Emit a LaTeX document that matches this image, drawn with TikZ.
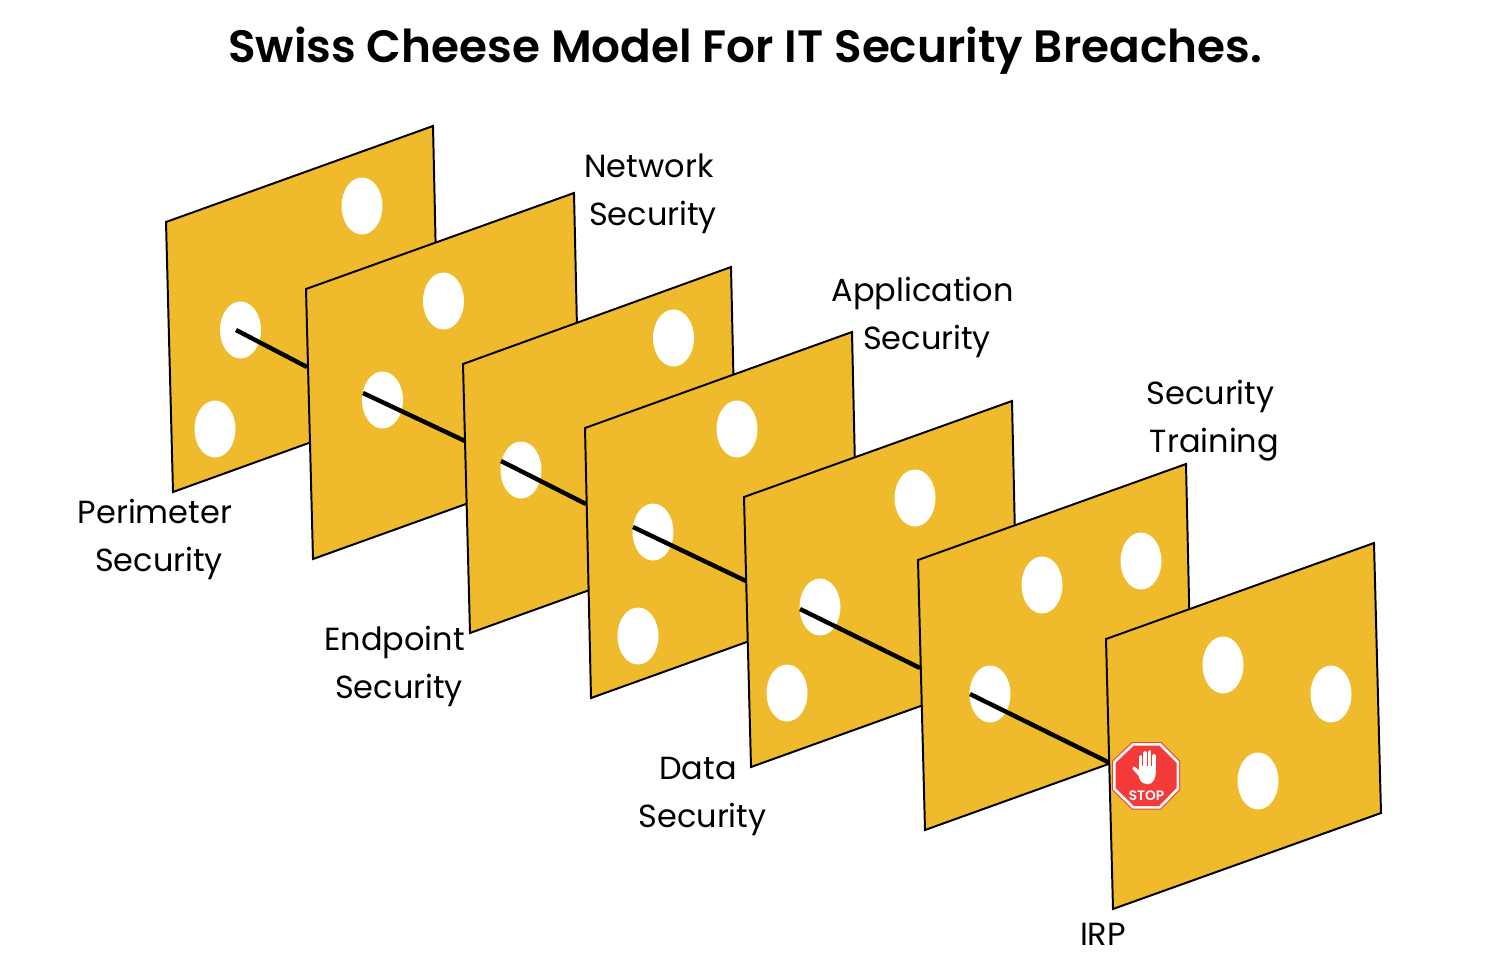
\documentclass[tikz,border=0pt]{standalone}
\usepackage{fontspec}
\setmainfont[BoldFont={Poppins SemiBold}]{Poppins}
\definecolor{cheese}{HTML}{EFBA2C}
\definecolor{stopred}{HTML}{F53A3A}
\tikzset{
  x=0.05cm,y=-0.05cm,
  panel/.style={fill=cheese,draw=black,line width=2.8pt,line join=miter},
  hole/.style={fill=white,draw=none},
  ray/.style={draw=black,line width=6.3pt},
  lbl/.style={anchor=base,inner sep=0pt,font=\fontsize{45.5}{46}\selectfont,text=black},
  ttl/.style={anchor=base,inner sep=0pt,font=\fontsize{64.5}{65}\selectfont\bfseries,text=black},
}
\newcommand{\holeat}[2]{\fill[hole] (#1,#2) ellipse [x radius=20.5,y radius=28.5];}
\begin{document}
\begin{tikzpicture}
\useasboundingbox (0,0) rectangle (1500,978);
\node[ttl] (title) at (745,62) {Swiss Cheese Model For IT Security Breaches.};
% panel 1
\path[panel] (166,222) -- (433,126) -- (439,396) -- (173,492) -- cycle;
\holeat{362}{206}\holeat{240.5}{330}\holeat{215}{429}
\coordinate (a1) at (236,330); \coordinate (b1) at (307,367);
\draw[ray] (a1) -- (b1);
% panel 2
\path[panel] (306,289) -- (574,193) -- (580,463) -- (313,559) -- cycle;
\holeat{443.5}{301}\holeat{382.5}{400}
\coordinate (a2) at (363,393); \coordinate (b2) at (465,441);
\draw[ray] (a2) -- (b2);
% panel 3
\path[panel] (463,364) -- (731,267) -- (737,537) -- (470,633) -- cycle;
\holeat{673.5}{338}\holeat{521}{470}
\coordinate (a3) at (501,461); \coordinate (b3) at (586,504);
\draw[ray] (a3) -- (b3);
% panel 4
\path[panel] (585,428) -- (852,332) -- (858,602) -- (591,698) -- cycle;
\holeat{737}{429}\holeat{653}{532}\holeat{638}{636}
\coordinate (a4) at (633,527); \coordinate (b4) at (746,581);
\draw[ray] (a4) -- (b4);
% panel 5
\path[panel] (744,497) -- (1012,401) -- (1018,671) -- (751,767) -- cycle;
\holeat{915}{498}\holeat{820}{607}\holeat{787}{693}
\coordinate (a5) at (800,609); \coordinate (b5) at (920,668);
\draw[ray] (a5) -- (b5);
% panel 6
\path[panel] (918,560) -- (1186,464) -- (1192,734) -- (925,830) -- cycle;
\holeat{1141}{561}\holeat{1042}{585}\holeat{990}{694}
\coordinate (a6) at (970,694); \coordinate (b6) at (1110,763);
\draw[ray] (a6) -- (b6);
% panel 7
\path[panel] (1106,639) -- (1374,543) -- (1381,813) -- (1113,909) -- cycle;
\holeat{1223}{665}\holeat{1331}{694}\holeat{1258}{781}
% stop sign
\fill[stopred] (1132,742) -- (1161,742) -- (1180,761) -- (1180,790) -- (1161,809.5) -- (1132,809.5) -- (1112,790) -- (1112,761) -- cycle;
\fill[white] (1132.5,743) -- (1160.5,743) -- (1179,761.5) -- (1179,789.5) -- (1160.5,808.5) -- (1132.5,808.5) -- (1113,789.5) -- (1113,761.5) -- cycle;
\fill[stopred] (1134,745.5) -- (1159,745.5) -- (1176.5,763) -- (1176.5,788) -- (1159,806) -- (1134,806) -- (1115.5,788) -- (1115.5,763) -- cycle;
\draw[white,line width=5.4pt,line cap=round] (1140.5,757) -- (1140.5,772);
\draw[white,line width=5.4pt,line cap=round] (1145,753) -- (1145,772);
\draw[white,line width=5.4pt,line cap=round] (1149.5,752) -- (1149.5,772);
\draw[white,line width=5.4pt,line cap=round] (1153.8,756) -- (1153.8,772);
\draw[white,line width=5pt,line cap=round] (1134,768) -- (1142,777);
\fill[white,rounded corners=5pt] (1138.5,766) -- (1155.8,766) -- (1155.8,776) -- (1152,784) -- (1143,784) -- (1138.5,778) -- cycle;
\node[anchor=base,inner sep=0pt,text=white,font=\fontsize{19.5}{20}\selectfont\bfseries] (stoptext) at (1146.5,800.5) {STOP};
% labels
\node[lbl] (l1a) at (155,523) {Perimeter};
\node[lbl] (l1b) at (159,571) {Security};
\node[lbl] (l2a) at (649,177) {Network};
\node[lbl] (l2b) at (653,225) {Security};
\node[lbl] (l3a) at (394.5,650) {Endpoint};
\node[lbl] (l3b) at (399,698) {Security};
\node[lbl] (l4a) at (922.5,301) {Application};
\node[lbl] (l4b) at (927,349) {Security};
\node[lbl] (l5a) at (698,779) {Data};
\node[lbl] (l5b) at (702.5,827) {Security};
\node[lbl] (l6a) at (1210.5,404) {Security};
\node[lbl] (l6b) at (1214.5,452) {Training};
\node[lbl] (l7) at (1103,945) {IRP};
\end{tikzpicture}
\end{document}
